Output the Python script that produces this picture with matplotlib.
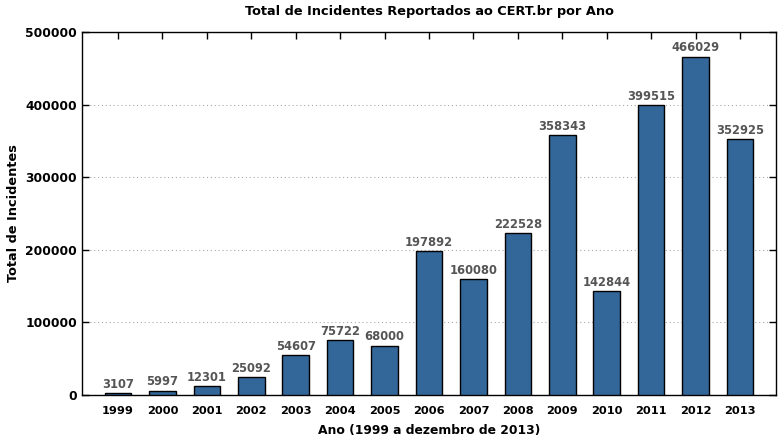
import matplotlib
matplotlib.use("Agg")
import matplotlib.pyplot as plt

anos = ["1999", "2000", "2001", "2002", "2003", "2004", "2005", "2006",
        "2007", "2008", "2009", "2010", "2011", "2012", "2013"]
incidentes = [3107, 5997, 12301, 25092, 54607, 75722, 68000, 197892,
              160080, 222528, 358343, 142844, 399515, 466029, 352925]

plt.rcParams['font.family'] = 'DejaVu Sans'
plt.rcParams['font.size'] = 8
plt.rcParams['font.weight'] = 'bold'

fig = plt.figure(figsize=(7.81, 4.4), dpi=100)
ax = fig.add_axes([0.105, 0.1023, 0.8886, 0.8250])

x = list(range(len(anos)))
bars = ax.bar(x, incidentes, width=0.6, color="#336699", edgecolor="black", linewidth=1, zorder=3)

for xi, v in zip(x, incidentes):
    ax.text(xi, v + 3000, str(v), ha="center", va="bottom", color="#555555",
            fontsize=8.3, fontweight="bold", zorder=4)

ax.set_xlim(-0.81, len(anos) - 1 + 0.81)
ax.set_ylim(0, 500000)
ax.set_yticks(range(0, 500001, 100000))
ax.set_xticks(x)
ax.set_xticklabels(anos, fontsize=8.2)
ax.tick_params(axis="y", labelsize=8.8)

ax.yaxis.grid(True, linestyle=(0, (1, 2.5)), color="#aaaaaa", linewidth=0.8, zorder=0)

ax.tick_params(axis="y", direction="in", length=5, left=True, right=True, width=1)
ax.tick_params(axis="x", direction="in", length=5, bottom=False, top=True, width=1, pad=8)
for s in ax.spines.values():
    s.set_linewidth(1)

ax.set_title("Total de Incidentes Reportados ao CERT.br por Ano", fontsize=9.3,
             fontweight="bold", pad=12)
ax.set_xlabel("Ano (1999 a dezembro de 2013)", fontsize=8.9, fontweight="bold", labelpad=6)
ax.set_ylabel("Total de Incidentes", fontsize=9.3, fontweight="bold", labelpad=4)

fig.savefig("out.png", dpi=100)
